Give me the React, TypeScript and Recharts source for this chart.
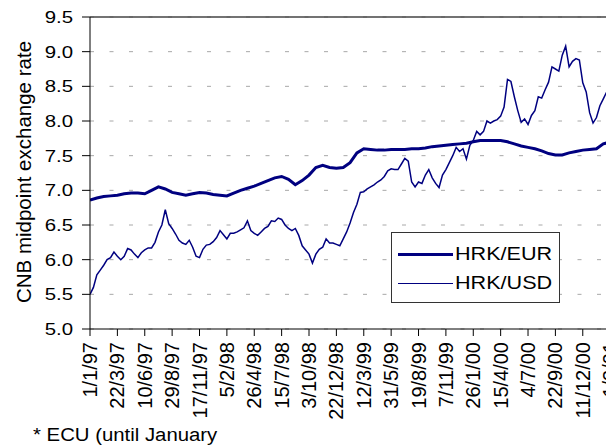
import React from 'react';
import { LineChart, Line, XAxis, YAxis, CartesianGrid, ReferenceLine, Legend } from 'recharts';

const FONT = '"Liberation Sans", Arial, sans-serif';
const NAVY = '#000080';

// x positions are days since 1/1/97
const EUR_STEP = 20;
const USD_STEP = 10;

const tickDays = [0, 80, 160, 240, 320, 400, 480, 560, 640, 720, 800, 880, 960, 1040, 1120, 1200, 1280, 1360, 1440, 1520];
const tickLabels = [
  '1/1/97', '22/3/97', '10/6/97', '29/8/97', '17/11/97', '5/2/98', '26/4/98', '15/7/98', '3/10/98', '22/12/98',
  '12/3/99', '31/5/99', '19/8/99', '7/11/99', '26/1/00', '15/4/00', '4/7/00', '22/9/00', '11/12/00', '1/3/01',
];
const yTicks = [5.0, 5.5, 6.0, 6.5, 7.0, 7.5, 8.0, 8.5, 9.0, 9.5];

const hrkEur = [
  6.86, 6.89, 6.91, 6.92, 6.93, 6.95, 6.96, 6.96, 6.95, 7.0,
  7.05, 7.02, 6.97, 6.95, 6.93, 6.95, 6.97, 6.96, 6.94, 6.93,
  6.92, 6.96, 7.0, 7.03, 7.06, 7.1, 7.14, 7.18, 7.2, 7.16,
  7.08, 7.14, 7.22, 7.33, 7.36, 7.33, 7.32, 7.33, 7.4, 7.54,
  7.6, 7.59, 7.58, 7.58, 7.59, 7.59, 7.59, 7.6, 7.6, 7.61,
  7.63, 7.64, 7.65, 7.66, 7.67, 7.68, 7.7, 7.72, 7.72, 7.72,
  7.72, 7.7, 7.67, 7.64, 7.62, 7.6, 7.57, 7.53, 7.51, 7.51,
  7.54, 7.56, 7.58, 7.59, 7.6, 7.67, 7.7, 7.71,
];

const hrkUsd = [
  5.5, 5.6, 5.78, 5.85, 5.92, 6.0, 6.03, 6.11, 6.05, 6.0,
  6.05, 6.16, 6.14, 6.08, 6.03, 6.1, 6.14, 6.17, 6.17, 6.25,
  6.4, 6.5, 6.72, 6.52, 6.45, 6.37, 6.28, 6.24, 6.22, 6.28,
  6.18, 6.05, 6.03, 6.15, 6.21, 6.22, 6.26, 6.32, 6.42, 6.36,
  6.3, 6.38, 6.38, 6.4, 6.43, 6.46, 6.56, 6.42, 6.38, 6.35,
  6.4, 6.45, 6.48, 6.56, 6.55, 6.6, 6.58, 6.5, 6.45, 6.42,
  6.45, 6.35, 6.2, 6.14, 6.08, 5.95, 6.08, 6.15, 6.18, 6.3,
  6.24, 6.24, 6.22, 6.2, 6.3, 6.4, 6.53, 6.68, 6.8, 6.97,
  6.98, 7.02, 7.05, 7.08, 7.12, 7.15, 7.2, 7.28, 7.31, 7.3,
  7.3, 7.38, 7.46, 7.42, 7.12, 7.05, 7.12, 7.1, 7.22, 7.3,
  7.18, 7.1, 7.04, 7.22, 7.3, 7.4, 7.5, 7.62, 7.56, 7.6,
  7.45, 7.65, 7.72, 7.85, 7.8, 7.85, 8.0, 7.97, 8.0, 8.02,
  8.07, 8.2, 8.6, 8.57, 8.35, 8.15, 7.98, 8.03, 7.95, 8.08,
  8.15, 8.35, 8.33, 8.45, 8.56, 8.78, 8.75, 8.72, 8.95, 9.08,
  8.78, 8.86, 8.9, 8.88, 8.55, 8.42, 8.12, 7.97, 8.05, 8.22,
  8.32, 8.42, 8.42, 8.33, 8.35,
];

const eurData = hrkEur.map((v, i) => ({ day: i * EUR_STEP, value: v }));
const usdData = hrkUsd.map((v, i) => ({ day: i * USD_STEP, value: v }));

const legendItems = [
  { name: 'HRK/EUR', width: 3 },
  { name: 'HRK/USD', width: 1.5 },
];

const YTick = ({ x, y, payload }: any) => (
  <text
    x={x}
    y={y}
    dy="0.35em"
    textAnchor="end"
    fontSize={17}
    fontFamily={FONT}
    fill="#000"
    transform={`translate(${x} 0) scale(1.2 1) translate(${-x} 0)`}
  >
    {payload.value.toFixed(1)}
  </text>
);

const XTick = ({ x, y, payload }: any) => {
  const idx = tickDays.indexOf(payload.value);
  return (
    <text
      transform={`translate(${x},${y}) rotate(-90)`}
      dy="0.35em"
      textAnchor="end"
      fontSize={20}
      fontFamily={FONT}
      fill="#000"
    >
      {idx >= 0 ? tickLabels[idx] : ''}
    </text>
  );
};

const renderLegend = () => (
  <div
    style={{
      width: 169,
      height: 71,
      border: '1px solid #333',
      background: '#fff',
      boxSizing: 'border-box',
      position: 'relative',
      fontFamily: FONT,
    }}
  >
    {legendItems.map((item, i) => (
      <div
        key={item.name}
        style={{ position: 'absolute', left: 6, top: 21 + i * 29 - 10, height: 20, display: 'flex', alignItems: 'center' }}
      >
        <div style={{ width: 55, borderTop: `${item.width}px solid ${NAVY}` }} />
        <span
          style={{
            fontSize: 18,
            lineHeight: '20px',
            marginLeft: 2,
            whiteSpace: 'nowrap',
            display: 'inline-block',
            transform: 'scaleX(1.2)',
            transformOrigin: 'left center',
          }}
        >
          {item.name}
        </span>
      </div>
    ))}
  </div>
);

const App = () => {
  return (
    <div style={{ position: 'relative', width: 606, height: 437, overflow: 'hidden', fontFamily: FONT }}>
      <LineChart width={609} height={437} margin={{ top: 9, right: 0, bottom: 0, left: 0 }}>
        <CartesianGrid vertical={false} stroke="#a8a8a8" strokeDasharray="4 15.5" />
        <XAxis
          dataKey="day"
          type="number"
          domain={[0, 1540]}
          ticks={tickDays}
          interval={0}
          height={116}
          tick={<XTick />}
          tickSize={7}
          tickMargin={6}
          axisLine={{ stroke: '#000' }}
          tickLine={{ stroke: '#000' }}
          allowDataOverflow
        />
        <YAxis
          type="number"
          domain={[5, 9.5]}
          ticks={yTicks}
          interval={0}
          width={82}
          tick={<YTick />}
          tickSize={8}
          tickMargin={9}
          axisLine={{ stroke: '#000' }}
          tickLine={{ stroke: '#000' }}
          allowDataOverflow
        />
        <ReferenceLine y={9.5} stroke="#444" strokeWidth={1.5} />
        <Line
          data={usdData}
          dataKey="value"
          name="HRK/USD"
          stroke={NAVY}
          strokeWidth={1.5}
          dot={false}
          isAnimationActive={false}
        />
        <Line
          data={eurData}
          dataKey="value"
          name="HRK/EUR"
          stroke={NAVY}
          strokeWidth={3}
          dot={false}
          isAnimationActive={false}
        />
        <Legend
          content={renderLegend}
          layout="horizontal"
          verticalAlign="middle"
          align="center"
          wrapperStyle={{ left: 383, top: 224, width: 169, height: 71 }}
        />
      </LineChart>
      <div
        style={{
          position: 'absolute',
          left: 16,
          top: 163.5,
          transform: 'translate(-50%, -50%) rotate(-90deg)',
          fontSize: 20.5,
          lineHeight: 1,
          whiteSpace: 'nowrap',
        }}
      >
        CNB midpoint exchange rate
      </div>
      <div
        style={{
          position: 'absolute',
          left: 25,
          top: 418,
          fontSize: 18,
          lineHeight: '18px',
          whiteSpace: 'nowrap',
          transform: 'scaleX(1.13)',
          transformOrigin: 'left top',
        }}
      >
        * ECU (until January
      </div>
    </div>
  );
};

export default App;
